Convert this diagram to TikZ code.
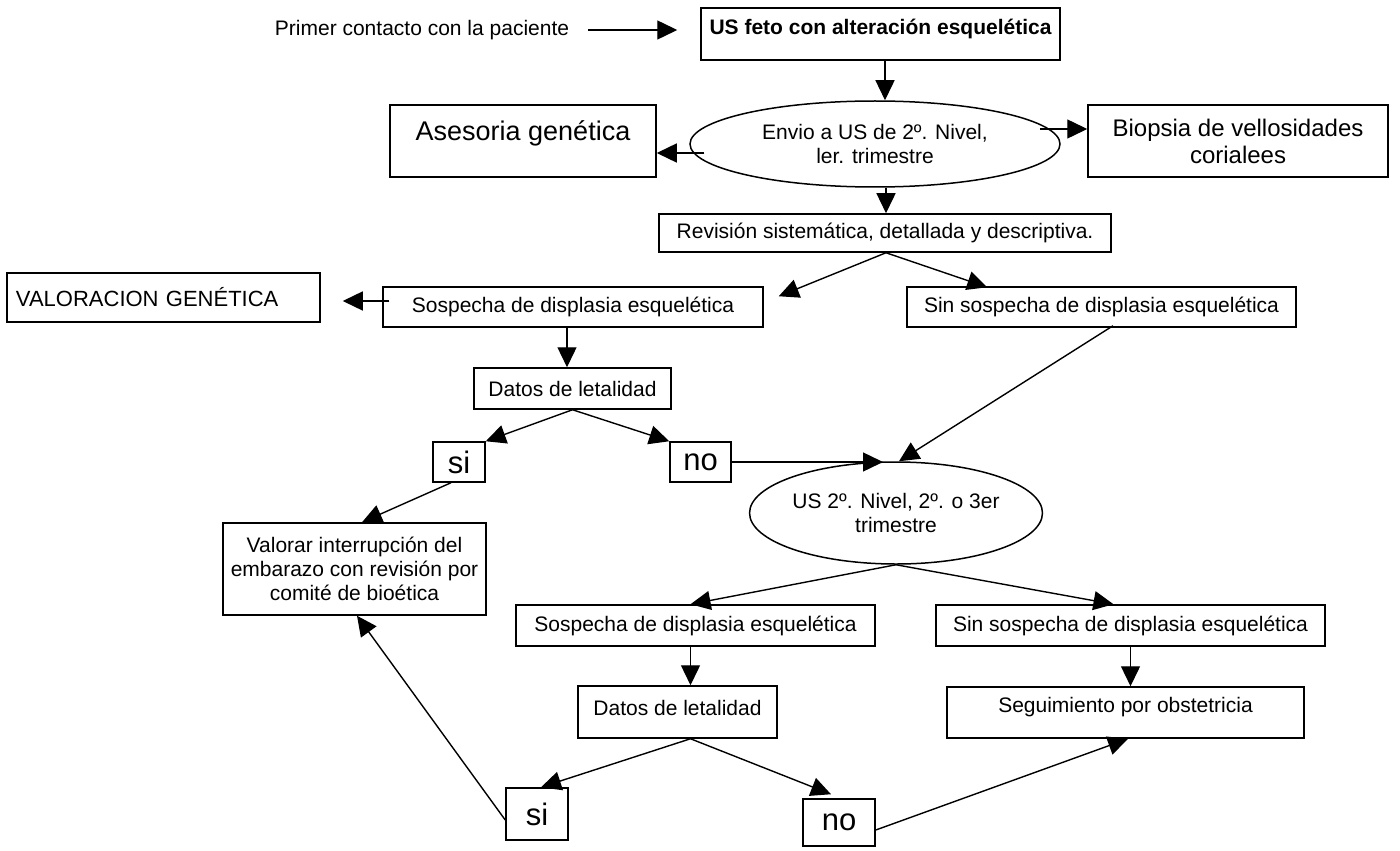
\documentclass[tikz,border=0pt]{standalone}
\usepackage{fontspec}
\setmainfont{Liberation Sans}
\usetikzlibrary{shapes.geometric,arrows.meta,calc}

\begin{document}
\begin{tikzpicture}[x=0.5pt,y=-0.5pt,
  font=\fontsize{10.5}{12}\selectfont,
  box/.style={draw,line width=0.75pt,inner sep=0pt,align=center},
  oval/.style={ellipse,draw,line width=0.75pt,inner sep=0pt,align=center},
  big/.style={font=\fontsize{15.5}{18}\selectfont},
  arr/.style={-{Triangle[length=10pt,width=9.5pt]},line width=0.7pt}]
\useasboundingbox (0,0) rectangle (1400,850);
% primer nivel
\node[inner sep=0pt] (prim) at (422,30) {Primer contacto con la paciente};
\node[box,minimum width=179.5pt,minimum height=26pt,text depth=7pt,font=\fontsize{10.5}{12}\selectfont\bfseries] (usf) at (880.5,34) {US feto con alteración esquelética};
\node[oval,minimum width=185pt,minimum height=43pt] (env) at (875,144) {Envio a US de 2º. Nivel,\\ler. trimestre};
\node[box,minimum width=133pt,minimum height=36pt,text depth=10.5pt,font=\fontsize{13.5}{16}\selectfont] (ase) at (523,141) {Asesoria genética};
\node[box,minimum width=150pt,minimum height=36pt,font=\fontsize{12}{13.5}\selectfont] (bio) at (1238,141) {Biopsia de vellosidades\\corialees};
\node[box,minimum width=226pt,minimum height=19pt] (rev) at (885,233) {Revisión sistemática, detallada y descriptiva.};
% sospecha en 1er trimestre
\node[box,minimum height=24.5pt,align=left,text width=147.5pt,inner xsep=4.5pt,font=\fontsize{11}{13}\selectfont] (vgen) at (163.5,297.5) {VALORACION GENÉTICA};
\node[box,minimum width=190pt,minimum height=20pt] (sos1) at (573,307) {Sospecha de displasia esquelética};
\node[box,minimum width=194.5pt,minimum height=20pt] (sin1) at (1101.5,307) {Sin sospecha de displasia esquelética};
\node[box,minimum width=98.5pt,minimum height=20.5pt] (dat1) at (572.5,388.5) {Datos de letalidad};
\node[box,big,minimum width=26pt,minimum height=20pt] (si1) at (459,462) {si};
\node[box,big,minimum width=30.5pt,minimum height=20pt] (no1) at (700.5,462) {no};
\node[oval,minimum width=143pt,minimum height=51pt] (us2) at (896,513) {US 2º. Nivel, 2º. o 3er\\trimestre};
\node[box,minimum width=131.5pt,minimum height=46pt] (val) at (354.5,569) {Valorar interrupción del\\embarazo con revisión por\\comité de bioética};
% 2o o 3er trimestre
\node[box,minimum width=179.5pt,minimum height=20.5pt] (sos2) at (695.5,625.5) {Sospecha de displasia esquelética};
\node[box,minimum width=194.5pt,minimum height=20.5pt] (sin2) at (1130.5,625.5) {Sin sospecha de displasia esquelética};
\node[box,minimum width=99.5pt,minimum height=26pt,text depth=4pt] (dat2) at (677.5,712) {Datos de letalidad};
\node[box,minimum width=178.5pt,minimum height=25.5pt,text depth=7.7pt] (seg) at (1125.5,712.5) {Seguimiento por obstetricia};
\node[box,big,minimum width=31pt,minimum height=26pt] (si2) at (537,814) {si};
\node[box,big,minimum width=36pt,minimum height=23.5pt] (no2) at (839,822.5) {no};
% flechas
\draw[arr] ($(prim.east)+(19,0)$) -- ($(usf.west)+(-23,-4)$);
\draw[arr] ($(usf.south)+(4.5,0)$) -- ($(usf.south |- env.north)+(4.5,0)$);
\draw[arr] ($(env.west)+(15,9)$) -- ($(ase.east)+(0,12)$);
\draw[arr] ($(env.east)+(-21,-15)$) -- ($(bio.west)+(0,-12)$);
\draw[arr] ($(env.south)+(11,0)$) -- ($(rev.north)+(1,0)$);
\draw[arr] ($(rev.south)+(1,0)$) -- ($(sos1.north east)+(15,10)$);
\draw[arr] ($(rev.south)+(1,0)$) -- ($(sin1.north west)+(81,1)$);
\draw[arr] ($(sos1.west)+(7,-6)$) -- ($(vgen.east)+(22,3.5)$);
\draw[arr] ($(sos1.south)+(-6,0)$) -- ($(dat1.north)+(-5.5,0)$);
\draw[arr] (dat1.south) -- (si1.north east);
\draw[arr] (dat1.south) -- (no1.north west);
\draw[arr] (no1.east) -- ($(no1.east -| us2.north)+(-13,0)$);
\draw[arr] ($(sin1.south)+(11.5,-2)$) -- ($(us2.north)+(3,0)$);
\draw[arr] ($(si1.south)+(-8,0)$) -- ($(val.north)+(7.5,0)$);
\draw[arr] (us2.south) -- ($(sos2.north)+(-5,0)$);
\draw[arr] (us2.south) -- ($(sin2.north)+(-17,0)$);
\draw[arr] ($(sos2.south)+(-5,0)$) -- ($(sos2.south |- dat2.north)+(-5,0)$);
\draw[arr] (sin2.south) -- (sin2.south |- seg.north);
\draw[arr] ($(dat2.south)+(13,0)$) -- ($(si2.north)+(4,0)$);
\draw[arr] ($(dat2.south)+(13,0)$) -- ($(no2.north)+(-8,-4)$);
\draw[arr] ($(si2.west)+(0,6)$) -- ($(val.south)+(2.5,0)$);
\draw[arr] ($(no2.east)+(0,7.5)$) -- ($(seg.south)+(2.5,0)$);
\end{tikzpicture}
\end{document}
